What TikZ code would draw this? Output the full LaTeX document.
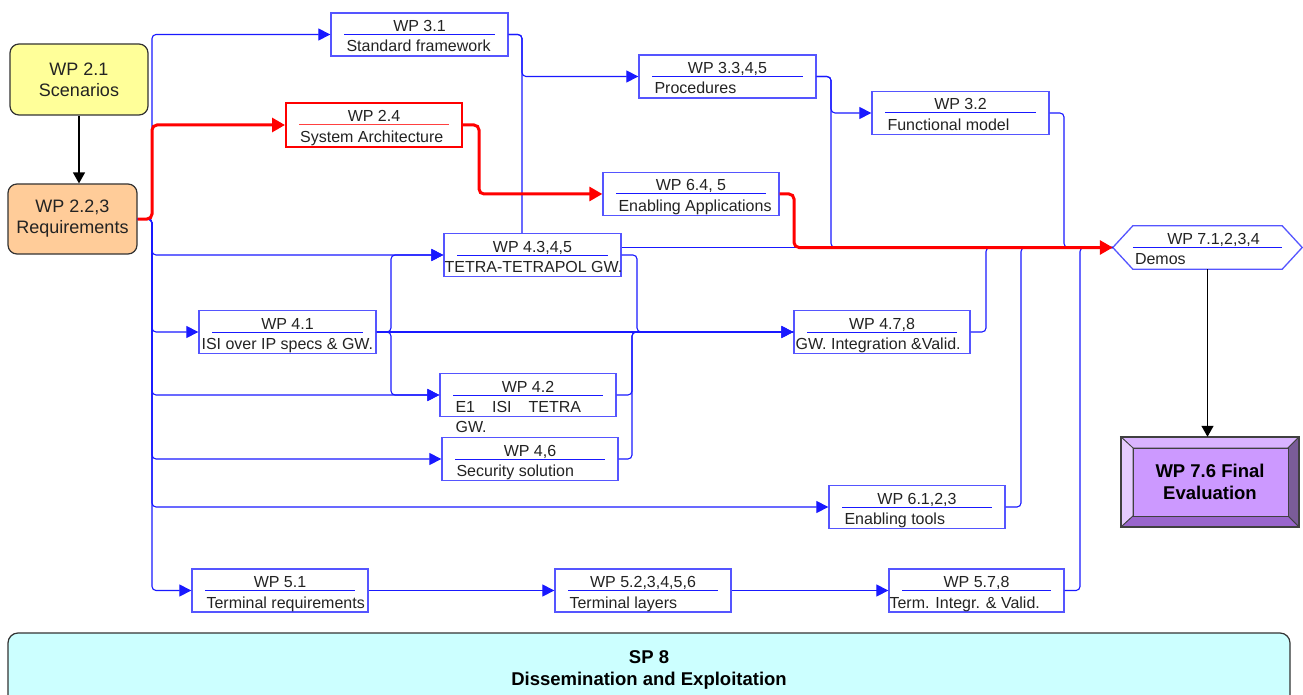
\documentclass[tikz,border=0pt]{standalone}
\usepackage{fontspec}
\setmainfont{Liberation Sans}
\usetikzlibrary{arrows.meta}

\definecolor{wpblue}{RGB}{25,25,255}
\definecolor{wpframeblue}{RGB}{85,85,255}
\definecolor{wpink}{RGB}{35,35,35}
\definecolor{scenfill}{RGB}{255,255,153}
\definecolor{reqfill}{RGB}{255,204,153}
\definecolor{sp8fill}{RGB}{204,255,255}
\definecolor{evalmid}{RGB}{204,153,255}
\definecolor{evaltop}{RGB}{218,180,255}
\definecolor{evalleft}{RGB}{230,204,255}
\definecolor{evalright}{RGB}{122,92,153}
\definecolor{evalbottom}{RGB}{153,102,204}

\tikzset{
  wpframe/.style={draw=wpframeblue, line width=1.3pt, minimum height=43pt, inner sep=0pt, fill=white},
  wprule/.style={draw=wpblue, line width=1pt},
  wplabel/.style={inner sep=0pt, text=wpink, font=\fontsize{16}{19}\selectfont},
  bigbox/.style={draw=black!80, line width=1.2pt, rounded corners=9pt, align=center,
    inner sep=0pt, text=wpink, font=\fontsize{18}{21}\selectfont},
  link/.style={draw=wpblue, line width=1.1pt, rounded corners=4pt},
  conn/.style={link, -{Triangle[length=12pt,width=12pt]}},
  critical/.style={draw=red, line width=3pt, rounded corners=5pt, -{Triangle[length=13pt,width=14pt]}},
  flow/.style={draw=black, line width=1.3pt, -{Triangle[length=11pt,width=12pt]}},
  boldlabel/.style={inner sep=0pt, text=black, font=\bfseries\fontsize{18.5}{22}\selectfont, align=center},
}

% work package box: name, centre x, centre y, width, title, subtitle, subtitle indent
\newcommand\wpbox[7]{%
  \node[wpframe, minimum width=#4pt] (#1) at (#2,#3) {};
  \draw[wprule] ([xshift=14pt]#1.west) -- ([xshift=-14pt]#1.east);
  \node[wplabel, anchor=base] at ([yshift=3pt]#1.center) {#5};
  \node[wplabel, anchor=base west] at ([xshift=#7pt, yshift=-17.5pt]#1.west) {#6};
}

\begin{document}
\begin{tikzpicture}[x=1pt, y=-1pt]
\clip (0,0) rectangle (1303,695);
\fill[white] (0,0) rectangle (1303,695);

% scenarios and requirements
\node[bigbox, fill=scenfill, minimum width=138pt, minimum height=71pt] (scen) at (79,79.5) {WP 2.1\\Scenarios};
\node[bigbox, fill=reqfill, minimum width=129pt, minimum height=70pt] (req) at (72.5,219) {WP 2.2,3\\Requirements};
\draw[flow] (scen.south) -- (scen.south |- req.north);

% work packages
\wpbox{wp31}{419.5}{34.5}{177}{WP 3.1}{Standard framework}{16}
\wpbox{wp33}{727.5}{76.5}{177}{WP 3.3,4,5}{Procedures}{16}
\wpbox{wp32}{960.5}{113}{177}{WP 3.2}{Functional model}{16}
\wpbox{wp64}{691}{194}{176}{WP 6.4, 5}{Enabling Applications}{16}
\wpbox{wp435}{532.5}{255}{177}{WP 4.3,4,5}{TETRA-TETRAPOL GW.}{1}
\wpbox{wp41}{287.5}{332}{177}{WP 4.1}{ISI over IP specs \& GW.}{3}
\wpbox{wp42}{528}{395}{176}{WP 4.2}{E1\hspace{17pt}ISI\hspace{17pt}TETRA}{16}
\node[wplabel, anchor=base west] at ([xshift=16pt, yshift=-37pt]wp42.west) {GW.};
\wpbox{wp46}{530}{459}{176}{WP 4,6}{Security solution}{15}
\wpbox{wp478}{882}{332}{176}{WP 4.7,8}{GW. Integration \&Valid.}{2}
\wpbox{wp61}{917}{507}{176}{WP 6.1,2,3}{Enabling tools}{16}
\wpbox{wp51}{280}{590.5}{176}{WP 5.1}{Terminal requirements}{15}
\wpbox{wp52}{643}{590.5}{176}{WP 5.2,3,4,5,6}{Terminal layers}{15}
\wpbox{wp57}{976.5}{590.5}{175}{WP 5.7,8}{Term. Integr. \& Valid.}{1}

% system architecture (critical path)
\node[wpframe, draw=red, line width=2pt, minimum width=176pt, minimum height=44pt] (wp24) at (374,125) {};
\draw[wprule, draw=red!75!white] ([xshift=14pt]wp24.west) -- ([xshift=-14pt]wp24.east);
\node[wplabel, anchor=base] at ([yshift=3pt]wp24.center) {WP 2.4};
\node[wplabel, anchor=base west] at ([xshift=15pt, yshift=-17.5pt]wp24.west) {System Architecture};

% demos (hexagon)
\node[minimum width=189pt, minimum height=43pt, inner sep=0pt] (demos) at (1207.5,247.5) {};
\draw[draw=wpframeblue, line width=1.3pt, fill=white]
  (demos.west) -- ([xshift=20pt]demos.north west) -- ([xshift=-20pt]demos.north east)
  -- (demos.east) -- ([xshift=-20pt]demos.south east) -- ([xshift=20pt]demos.south west) -- cycle;
\draw[wprule] ([xshift=20pt]demos.west) -- ([xshift=-20pt]demos.east);
\node[wplabel, anchor=base] at ([xshift=6pt, yshift=3.5pt]demos.center) {WP 7.1,2,3,4};
\node[wplabel, anchor=base west] at ([xshift=22pt, yshift=-16.5pt]demos.west) {Demos};

% final evaluation (bevelled button)
\node[minimum width=178pt, minimum height=90pt, inner sep=0pt] (final) at (1210,482) {};
\begin{scope}[draw=black!75, line width=0.8pt]
  \filldraw[fill=evaltop] (1121,437) -- (1299,437) -- (1288,448) -- (1133,448) -- cycle;
  \filldraw[fill=evalleft] (1121,437) -- (1133,448) -- (1133,516) -- (1121,527) -- cycle;
  \filldraw[fill=evalright] (1299,437) -- (1299,527) -- (1288,516) -- (1288,448) -- cycle;
  \filldraw[fill=evalbottom] (1121,527) -- (1299,527) -- (1288,516) -- (1133,516) -- cycle;
  \filldraw[fill=evalmid] (1133,448) rectangle (1288,516);
  \draw[line width=1.2pt] (1121,437) rectangle (1299,527);
\end{scope}
\node[boldlabel] at (final.center) {WP 7.6 Final\\Evaluation};
\draw[flow] (demos.south) -- (demos.south |- final.north);

% dissemination band
\node[draw=black!80, line width=1.2pt, fill=sp8fill, rounded corners=10pt,
  minimum width=1282pt, minimum height=80pt, inner sep=0pt] (sp8) at (649,673) {};
\node[boldlabel, anchor=base] at (649,663) {SP 8};
\node[boldlabel, anchor=base] at (649,685) {Dissemination and Exploitation};

% requirements trunk (corners are rounded, tips stay sharp)
\coordinate (trunk) at (152,219);
\foreach \t in {wp31,wp435,wp41,wp42,wp46,wp61,wp51}
  \draw[conn] (req.east) -- (trunk) |- (\t.west) [sharp corners];

% SP3 chain
\coordinate (v31) at (522,34.5);
\draw[conn] (wp31.east) -- (v31) |- (wp33.west) [sharp corners];
\draw[link] (wp31.east) -- (v31) -- (v31 |- wp435.north);
\coordinate (v33) at (831,76.5);
\draw[conn] (wp33.east) -- (v33) |- (wp32.west) [sharp corners];
\draw[link] (wp33.east) -- (v33) |- (demos.west);
\coordinate (v32) at (1064,113);
\draw[link] (wp32.east) -- (v32) |- (demos.west);

% SP4 gateways
\draw[link] (wp435.east |- demos.west) -- (demos.west);
\coordinate (v435) at (637,255);
\draw[conn] (wp435.east) -- (v435) |- (wp478.west) [sharp corners];
\coordinate (v41) at (391,332);
\draw[conn] (wp41.east) -- (wp478.west) [sharp corners];
\draw[conn] (wp41.east) -- (v41) |- (wp435.west) [sharp corners];
\draw[conn] (wp41.east) -- (v41) |- (wp42.west) [sharp corners];
\coordinate (v42) at (632,395);
\coordinate (v46) at (632,459);
\draw[link] (wp42.east) -- (v42) |- (wp478.west);
\draw[link] (wp46.east) -- (v46) |- (wp478.west);

% feeds into the demos
\coordinate (v478) at (986,332);
\coordinate (v61) at (1021,507);
\coordinate (v57) at (1080,590.5);
\draw[link] (wp478.east) -- (v478) |- (demos.west);
\draw[link] (wp61.east) -- (v61) |- (demos.west);
\draw[link] (wp57.east) -- (v57) |- (demos.west);

% SP5 terminal chain
\draw[conn] (wp51.east) -- (wp52.west) [sharp corners];
\draw[conn] (wp52.east) -- (wp57.west) [sharp corners];

% critical path
\draw[critical] (req.east) -- (trunk) |- (wp24.west) [sharp corners];
\coordinate (r24) at (479,125);
\draw[critical] (wp24.east) -- (r24) |- (wp64.west) [sharp corners];
\coordinate (r64) at (794,194);
\draw[critical] (wp64.east) -- (r64) |- (demos.west) [sharp corners];
\end{tikzpicture}
\end{document}
